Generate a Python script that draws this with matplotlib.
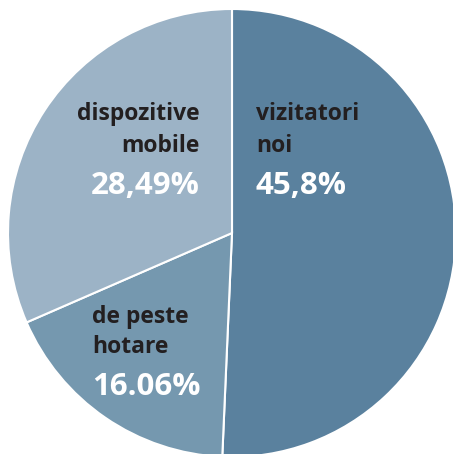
import matplotlib
matplotlib.use("Agg")
import matplotlib.pyplot as plt

# Traffic breakdown
categories = ["vizitatori\nnoi", "de peste\nhotare", "dispozitive\nmobile"]
values = [45.8, 16.06, 28.49]
value_labels = ["45,8%", "16.06%", "28,49%"]
colors = ["#5a819e", "#7598af", "#9cb3c6"]

W, H = 453, 454
fig = plt.figure(figsize=(W / 100, H / 100), dpi=100)
cx, cy, r = 232, 233, 224
ax = fig.add_axes([(cx - r) / W, (H - cy - r) / H, 2 * r / W, 2 * r / H])

ax.pie(values, colors=colors, startangle=90, counterclock=False, radius=1,
       wedgeprops=dict(edgecolor="white", linewidth=1.5))
ax.set_xlim(-1, 1)
ax.set_ylim(-1, 1)
ax.set_aspect("equal")
ax.axis("off")

def to_data(px, py):
    return (px - cx) / r, (cy - py) / r

font = "Open Sans"
dark = "#231f20"
label_size = 16.5
value_size = 22.5

# label anchor positions (pixel x, baseline of name lines, baseline of value)
layout = [
    (256, "left", 120, 152, 194),
    (92, "left", 323, 353, 395),
    (200, "right", 120, 152, 194),
]

for cat, vl, (px, ha, b1, b2, b3) in zip(categories, value_labels, layout):
    line1, line2 = cat.split("\n")
    for txt, by in ((line1, b1), (line2, b2)):
        x, y = to_data(px, by)
        ax.text(x, y, txt, ha=ha, va="baseline", fontsize=label_size,
                fontweight="bold", family=font, color=dark)
    x, y = to_data(px, b3)
    ax.text(x, y, vl, ha=ha, va="baseline", fontsize=value_size,
            fontweight="bold", family=font, color="white")

fig.savefig("out.png", dpi=100)
